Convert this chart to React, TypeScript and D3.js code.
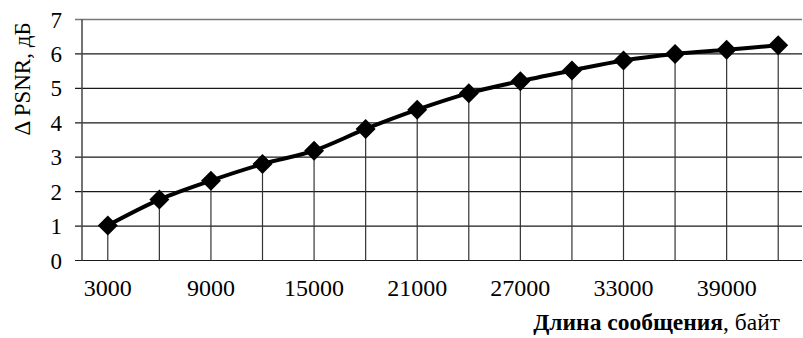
import React from "react";
import * as d3 from "d3";

const categories = [3000, 6000, 9000, 12000, 15000, 18000, 21000, 24000, 27000, 30000, 33000, 36000, 39000, 42000];
const values = [1.02, 1.77, 2.32, 2.8, 3.19, 3.82, 4.38, 4.86, 5.21, 5.52, 5.81, 6.0, 6.12, 6.25];
const yTicks = [0, 1, 2, 3, 4, 5, 6, 7];
const xLabelCats = [3000, 9000, 15000, 21000, 27000, 33000, 39000];
const yTitle = "Δ PSNR, дБ";
const xTitleBold = "Длина сообщения";
const xTitleNormal = ", байт";

export default function App() {
  const W = 803, H = 338;
  const left = 82, right = 804, top = 19.5, bottom = 260.5;
  const x = d3.scaleBand<number>().domain(categories).range([left, right]).padding(0);
  const y = d3.scaleLinear().domain([0, 7]).range([bottom, top]);
  const cx = (c: number) => (x(c) as number) + x.bandwidth() / 2;
  const pts: [number, number][] = categories.map((c, i) => [cx(c), y(values[i])]);
  const line = d3.line().curve(d3.curveCatmullRom.alpha(0.5))(pts) as string;
  const font = "'Liberation Serif', 'Times New Roman', serif";
  const r = 10;
  return (
    <svg width={W} height={H} style={{ position: "absolute", left: 0, top: 0, background: "#fff" }}>
      <rect width={W} height={H} fill="#fff" />
      {yTicks.map((t) => (
        <line key={"g" + t} x1={75} x2={802} y1={y(t)} y2={y(t)}
          stroke={t === 7 ? "#777" : "#1a1a1a"} strokeWidth={t === 7 ? 1.5 : 1.2} />
      ))}
      <line x1={left} x2={left} y1={top} y2={bottom} stroke="#444" strokeWidth={1.5} />
      {categories.map((c, i) => (
        <line key={"d" + c} x1={cx(c)} x2={cx(c)} y1={y(values[i])} y2={bottom} stroke="#333" strokeWidth={1.2} />
      ))}
      <path d={line} fill="none" stroke="#000" strokeWidth={4} />
      {pts.map(([px, py], i) => (
        <path key={"m" + i} d={`M${px},${py - r}L${px + r},${py}L${px},${py + r}L${px - r},${py}Z`} fill="#000" />
      ))}
      {yTicks.map((t) => (
        <text key={"yl" + t} x={62} y={y(t) + 8} textAnchor="end" fontFamily={font} fontSize={23} fill="#000">{t}</text>
      ))}
      {xLabelCats.map((c) => (
        <text key={"xl" + c} x={cx(c)} y={296} textAnchor="middle" fontFamily={font} fontSize={24} fill="#000">{c}</text>
      ))}
      <text transform={`translate(30,79) rotate(-90)`} textAnchor="middle" fontFamily={font} fontSize={23} fill="#000">{yTitle}</text>
      <text x={780} y={330} textAnchor="end" fontFamily={font} fontSize={23.5} fill="#000">
        <tspan fontWeight="bold">{xTitleBold}</tspan>
        <tspan>{xTitleNormal}</tspan>
      </text>
    </svg>
  );
}
